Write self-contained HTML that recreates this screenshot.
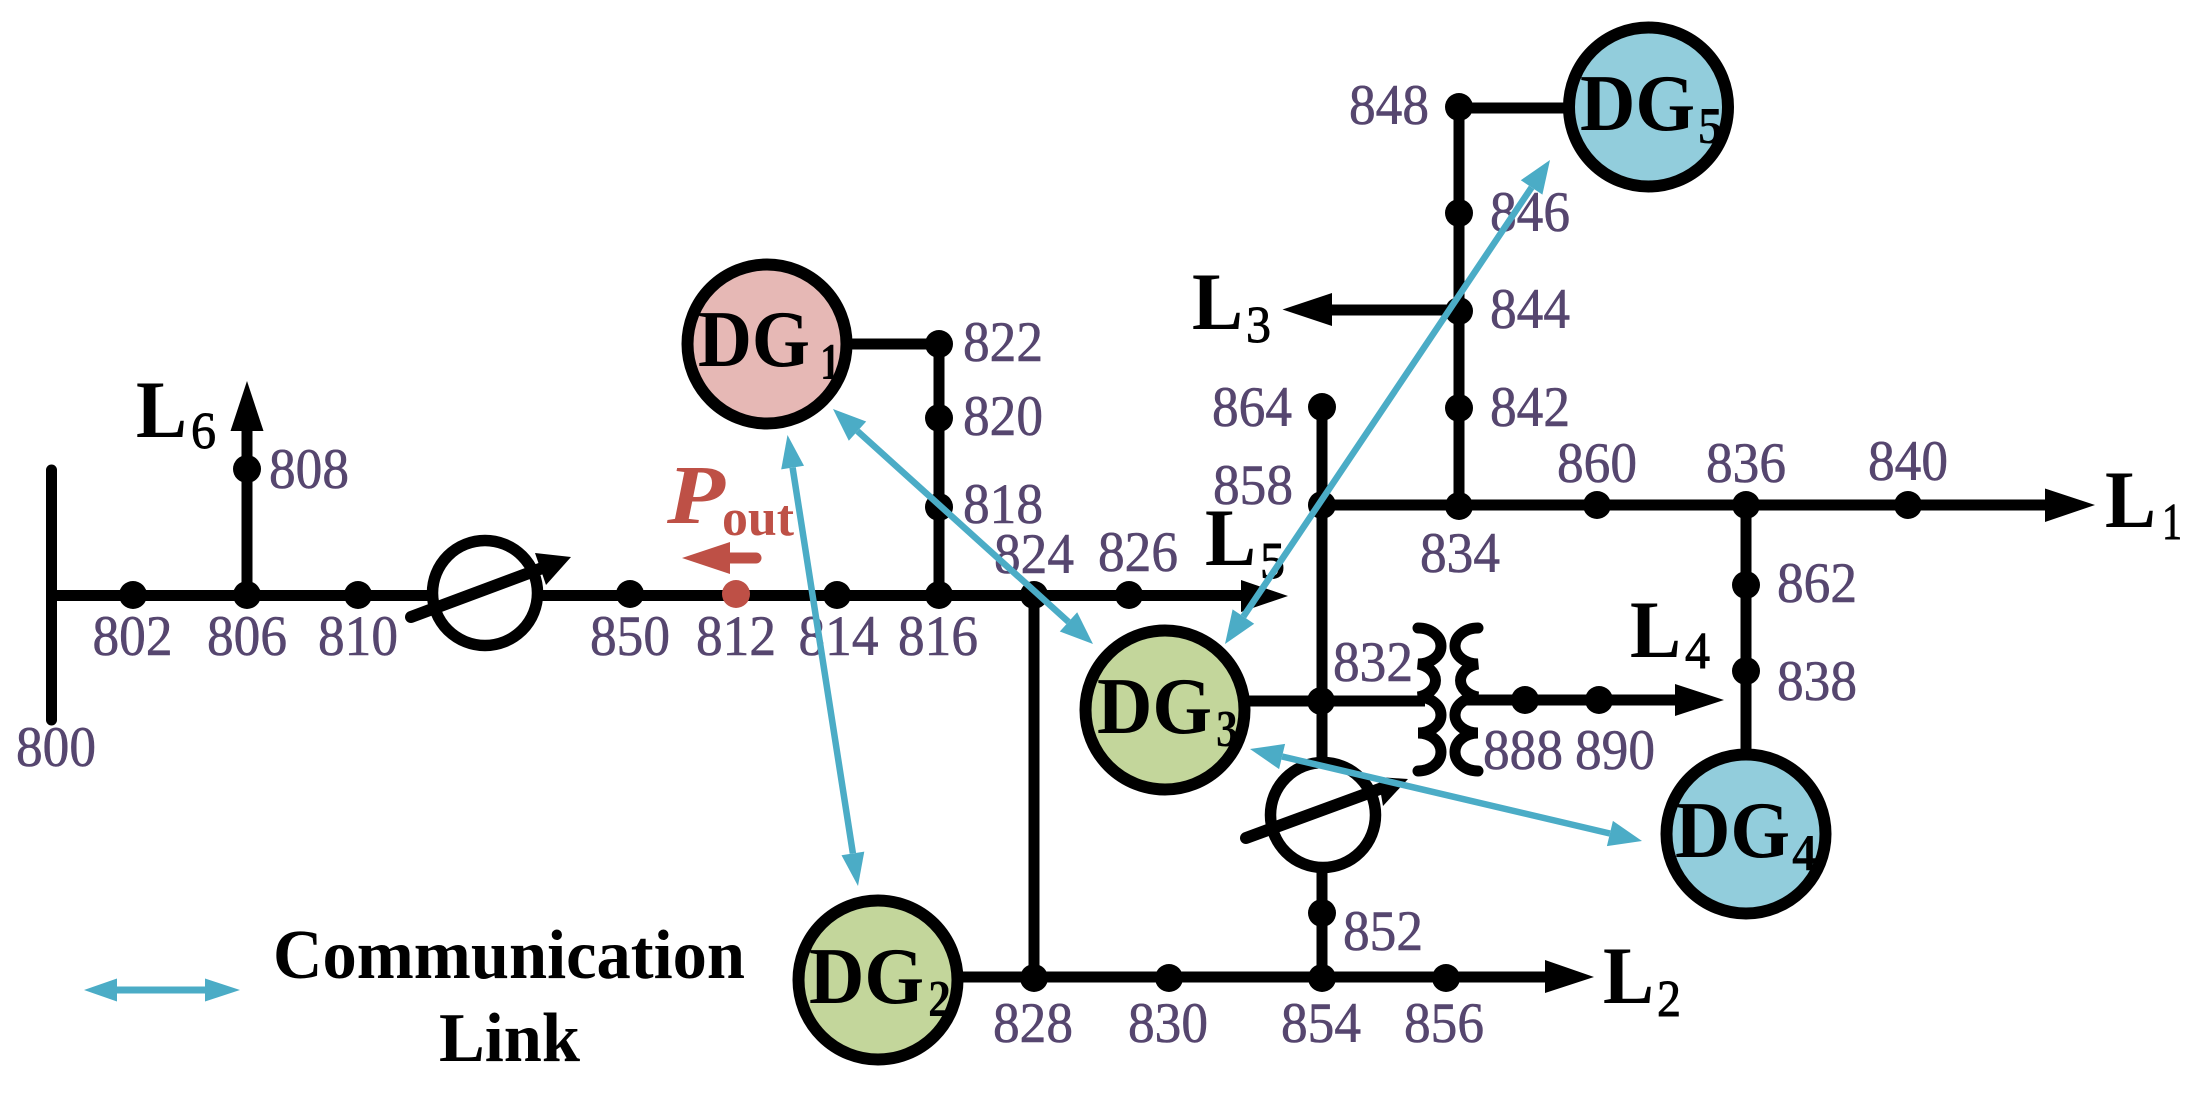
<!DOCTYPE html>
<html>
<head>
<meta charset="utf-8">
<style>
html,body{margin:0;padding:0;background:#fff;width:2203px;height:1095px;overflow:hidden}
svg{display:block}
text{font-family:"Liberation Serif",serif}
.n{font-size:57px;fill:#56466f;stroke:#56466f;stroke-width:.6;text-anchor:middle}
.b{font-size:82px;font-weight:bold;fill:#000}
.s{font-size:52px;fill:#000;stroke:#000;stroke-width:.9}
.q{font-size:52px;font-weight:bold;fill:#000}
.d{font-size:80px;font-weight:bold;fill:#000}
.k{stroke:#000;stroke-width:11;fill:none}
.bl{stroke:#4bacc6;stroke-width:6.500;fill:none}
</style>
</head>
<body>
<svg width="2203" height="1095" viewBox="0 0 2203 1095" xmlns="http://www.w3.org/2000/svg">
<rect width="2203" height="1095" fill="#fff"/>

<!-- lines -->
<g class="k">
<path d="M51.500 470V720" stroke-linecap="round"/>
<path d="M51.500 595.500H1250"/>
<path d="M247 595V425"/>
<path d="M939 595V344"/>
<path d="M850 344H939"/>
<path d="M1034 595V978"/>
<path d="M878 977H1555"/>
<path d="M1322 407V760"/>
<path d="M1322 870V978"/>
<path d="M1322 505H2055"/>
<path d="M1459 505V107"/>
<path d="M1459 108H1575"/>
<path d="M1459 310H1325"/>
<path d="M1746 505V760"/>
<path d="M1165 701H1425"/>
<path d="M1465 700H1685"/>
</g>

<!-- black arrowheads -->
<g fill="#000">
<polygon points="247,381 230.500,431 263.500,431"/>
<polygon points="1288,596 1241,580 1241,612"/>
<polygon points="1282.500,309.500 1332,293 1332,326"/>
<polygon points="2095,505 2045,488.500 2045,522"/>
<polygon points="1724,700 1675,684 1675,716"/>
<polygon points="1594,977 1545,960 1545,993"/>
</g>

<!-- regulators -->
<circle cx="485" cy="593" r="52.500" fill="#fff" stroke="#000" stroke-width="11.500"/>
<path d="M411 617L545 567" stroke="#000" stroke-width="12" stroke-linecap="round" fill="none"/>
<polygon points="535,553 571,557 546,585" fill="#000"/>
<circle cx="1323" cy="815" r="52.500" fill="#fff" stroke="#000" stroke-width="11.500"/>
<path d="M1246 838L1385 787" stroke="#000" stroke-width="12" stroke-linecap="round" fill="none"/>
<polygon points="1378,777 1408,779 1383,806" fill="#000"/>

<!-- transformer -->
<g stroke="#000" stroke-width="11" fill="none" stroke-linecap="round">
<path d="M1418 628A23 18 0 0 1 1418 664A23 17 0 0 1 1418 697A23 18 0 0 1 1418 733A23 19 0 0 1 1418 771"/>
<path d="M1478 628A23 18 0 0 0 1478 664A23 17 0 0 0 1478 697A23 18 0 0 0 1478 733A23 19 0 0 0 1478 771"/>
</g>

<!-- nodes -->
<g fill="#000">
<circle cx="133" cy="595" r="14"/>
<circle cx="247" cy="595" r="14"/>
<circle cx="247" cy="469" r="14"/>
<circle cx="358" cy="595" r="14"/>
<circle cx="630" cy="594" r="14"/>
<circle cx="837" cy="595" r="14"/>
<circle cx="939" cy="595" r="14"/>
<circle cx="1034" cy="595" r="14"/>
<circle cx="1129" cy="595" r="14"/>
<circle cx="939" cy="344" r="14"/>
<circle cx="939" cy="418" r="14"/>
<circle cx="939" cy="507" r="14"/>
<circle cx="1322" cy="407" r="14"/>
<circle cx="1322" cy="505" r="14"/>
<circle cx="1321" cy="701" r="14"/>
<circle cx="1459" cy="107" r="14"/>
<circle cx="1459" cy="213" r="14"/>
<circle cx="1459" cy="311" r="14"/>
<circle cx="1459" cy="408" r="14"/>
<circle cx="1459" cy="506" r="14"/>
<circle cx="1597" cy="505" r="14"/>
<circle cx="1746" cy="505" r="14"/>
<circle cx="1908" cy="505" r="14"/>
<circle cx="1746" cy="585" r="14"/>
<circle cx="1746" cy="671" r="14"/>
<circle cx="1525" cy="700" r="14"/>
<circle cx="1599" cy="700" r="14"/>
<circle cx="1034" cy="978" r="14"/>
<circle cx="1169" cy="978" r="14"/>
<circle cx="1322" cy="978" r="14"/>
<circle cx="1446" cy="978" r="14"/>
<circle cx="1322" cy="913" r="14"/>
</g>
<circle cx="736" cy="594" r="14" fill="#be5046"/>

<!-- DG circles -->
<g stroke="#000" stroke-width="12">
<circle cx="767" cy="344" r="79.500" fill="#e6b8b5"/>
<circle cx="878" cy="980" r="79.500" fill="#c3d69b"/>
<circle cx="1165" cy="710" r="79.500" fill="#c3d69b"/>
<circle cx="1746" cy="834" r="79.500" fill="#92cddc"/>
<circle cx="1648.500" cy="107" r="79.500" fill="#92cddc"/>
</g>

<!-- DG labels -->
<text class="d" x="698" y="366" textLength="112" lengthAdjust="spacingAndGlyphs">DG</text>
<text class="q" x="820" y="379" textLength="20" lengthAdjust="spacingAndGlyphs">1</text>
<text class="d" x="809" y="1003" textLength="115" lengthAdjust="spacingAndGlyphs">DG</text>
<text class="q" x="928" y="1016" textLength="23" lengthAdjust="spacingAndGlyphs">2</text>
<text class="d" x="1097" y="733" textLength="115" lengthAdjust="spacingAndGlyphs">DG</text>
<text class="q" x="1216" y="746" textLength="22" lengthAdjust="spacingAndGlyphs">3</text>
<text class="d" x="1675" y="857" textLength="115" lengthAdjust="spacingAndGlyphs">DG</text>
<text class="q" x="1792" y="870" textLength="25" lengthAdjust="spacingAndGlyphs">4</text>
<text class="d" x="1580" y="130" textLength="115" lengthAdjust="spacingAndGlyphs">DG</text>
<text class="q" x="1698" y="143" textLength="25" lengthAdjust="spacingAndGlyphs">5</text>

<!-- Load labels -->
<text class="b" x="2105" y="527" textLength="51" lengthAdjust="spacingAndGlyphs">L</text>
<text class="s" x="2162" y="539" textLength="20" lengthAdjust="spacingAndGlyphs">1</text>
<text class="b" x="1603" y="1003" textLength="51" lengthAdjust="spacingAndGlyphs">L</text>
<text class="s" x="1657" y="1016" textLength="24" lengthAdjust="spacingAndGlyphs">2</text>
<text class="b" x="1192" y="329" textLength="51" lengthAdjust="spacingAndGlyphs">L</text>
<text class="s" x="1246" y="342" textLength="25" lengthAdjust="spacingAndGlyphs">3</text>
<text class="b" x="1630" y="657" textLength="51" lengthAdjust="spacingAndGlyphs">L</text>
<text class="s" x="1685" y="668" textLength="25" lengthAdjust="spacingAndGlyphs">4</text>
<text class="b" x="1205" y="565" textLength="51" lengthAdjust="spacingAndGlyphs">L</text>
<text class="s" x="1260" y="578" textLength="25" lengthAdjust="spacingAndGlyphs">5</text>
<text class="b" x="136" y="437" textLength="51" lengthAdjust="spacingAndGlyphs">L</text>
<text class="s" x="191" y="448" textLength="25" lengthAdjust="spacingAndGlyphs">6</text>

<!-- Node numbers -->
<g>
<text class="n" x="132.500" y="655" textLength="80" lengthAdjust="spacingAndGlyphs">802</text>
<text class="n" x="247" y="655" textLength="80" lengthAdjust="spacingAndGlyphs">806</text>
<text class="n" x="358" y="655" textLength="80" lengthAdjust="spacingAndGlyphs">810</text>
<text class="n" x="630" y="655" textLength="80" lengthAdjust="spacingAndGlyphs">850</text>
<text class="n" x="736" y="655" textLength="80" lengthAdjust="spacingAndGlyphs">812</text>
<text class="n" x="838.500" y="655" textLength="80" lengthAdjust="spacingAndGlyphs">814</text>
<text class="n" x="938" y="655" textLength="80" lengthAdjust="spacingAndGlyphs">816</text>
<text class="n" x="309" y="488" textLength="80" lengthAdjust="spacingAndGlyphs">808</text>
<text class="n" x="56" y="766" textLength="80" lengthAdjust="spacingAndGlyphs">800</text>
<text class="n" x="1003" y="361" textLength="80" lengthAdjust="spacingAndGlyphs">822</text>
<text class="n" x="1003" y="435" textLength="80" lengthAdjust="spacingAndGlyphs">820</text>
<text class="n" x="1003" y="523" textLength="80" lengthAdjust="spacingAndGlyphs">818</text>
<text class="n" x="1034" y="573" textLength="80" lengthAdjust="spacingAndGlyphs">824</text>
<text class="n" x="1138" y="571" textLength="80" lengthAdjust="spacingAndGlyphs">826</text>
<text class="n" x="1252" y="426" textLength="80" lengthAdjust="spacingAndGlyphs">864</text>
<text class="n" x="1253" y="504" textLength="80" lengthAdjust="spacingAndGlyphs">858</text>
<text class="n" x="1389" y="124" textLength="80" lengthAdjust="spacingAndGlyphs">848</text>
<text class="n" x="1530" y="231" textLength="80" lengthAdjust="spacingAndGlyphs">846</text>
<text class="n" x="1530" y="328" textLength="80" lengthAdjust="spacingAndGlyphs">844</text>
<text class="n" x="1530" y="426" textLength="80" lengthAdjust="spacingAndGlyphs">842</text>
<text class="n" x="1460" y="572" textLength="80" lengthAdjust="spacingAndGlyphs">834</text>
<text class="n" x="1597" y="482" textLength="80" lengthAdjust="spacingAndGlyphs">860</text>
<text class="n" x="1746" y="482" textLength="80" lengthAdjust="spacingAndGlyphs">836</text>
<text class="n" x="1908" y="480" textLength="80" lengthAdjust="spacingAndGlyphs">840</text>
<text class="n" x="1817" y="602" textLength="80" lengthAdjust="spacingAndGlyphs">862</text>
<text class="n" x="1817" y="700" textLength="80" lengthAdjust="spacingAndGlyphs">838</text>
<text class="n" x="1373" y="681" textLength="80" lengthAdjust="spacingAndGlyphs">832</text>
<text class="n" x="1523" y="769" textLength="80" lengthAdjust="spacingAndGlyphs">888</text>
<text class="n" x="1615" y="769" textLength="80" lengthAdjust="spacingAndGlyphs">890</text>
<text class="n" x="1033" y="1042" textLength="80" lengthAdjust="spacingAndGlyphs">828</text>
<text class="n" x="1168" y="1042" textLength="80" lengthAdjust="spacingAndGlyphs">830</text>
<text class="n" x="1321" y="1042" textLength="80" lengthAdjust="spacingAndGlyphs">854</text>
<text class="n" x="1444" y="1042" textLength="80" lengthAdjust="spacingAndGlyphs">856</text>
<text class="n" x="1383" y="950" textLength="80" lengthAdjust="spacingAndGlyphs">852</text>
</g>

<!-- P out -->
<text x="667" y="523" font-size="84" font-weight="bold" font-style="italic" fill="#be5046" textLength="58" lengthAdjust="spacingAndGlyphs">P</text>
<text x="722" y="535" font-size="52" font-weight="bold" fill="#be5046" textLength="72" lengthAdjust="spacingAndGlyphs">out</text>
<path d="M725 558H756" stroke="#be5046" stroke-width="11" stroke-linecap="round" fill="none"/>
<polygon points="682,558 730,542 730,574" fill="#be5046"/>

<!-- Communication links -->
<g class="bl">
<path d="M1531.600 187.400L1243.400 616.600"/>
<path d="M857.500 431.100L1068.500 621.900"/>
<path d="M792.600 467.600L852.900 853.400"/>
<path d="M1282.100 756.500L1609.900 833.500"/>
</g>
<g fill="#4bacc6">
<polygon points="1550,160 1542.400,194.600 1520.800,180.200"/>
<polygon points="1225,644 1254.200,623.800 1232.600,609.400"/>
<polygon points="833,409 866.200,421.500 848.800,440.700"/>
<polygon points="1093,644 1077.200,612.300 1059.800,631.500"/>
<polygon points="787.500,435 804,465.800 781.200,469.400"/>
<polygon points="858,886 864.300,851.600 841.500,855.200"/>
<polygon points="1250,749 1285.100,743.900 1279.100,769.100"/>
<polygon points="1642,841 1612.900,820.900 1606.900,846.100"/>
</g>

<!-- Legend -->
<path d="M110 990H212" stroke="#4bacc6" stroke-width="7" fill="none"/>
<polygon points="84,990 117,978.500 117,1001.500" fill="#4bacc6"/>
<polygon points="240,990 205,978.500 205,1001.500" fill="#4bacc6"/>
<text x="273" y="978" font-size="70" font-weight="bold" fill="#000" textLength="472" lengthAdjust="spacingAndGlyphs">Communication</text>
<text x="439" y="1061" font-size="70" font-weight="bold" fill="#000" textLength="141" lengthAdjust="spacingAndGlyphs">Link</text>
</svg>
</body>
</html>
